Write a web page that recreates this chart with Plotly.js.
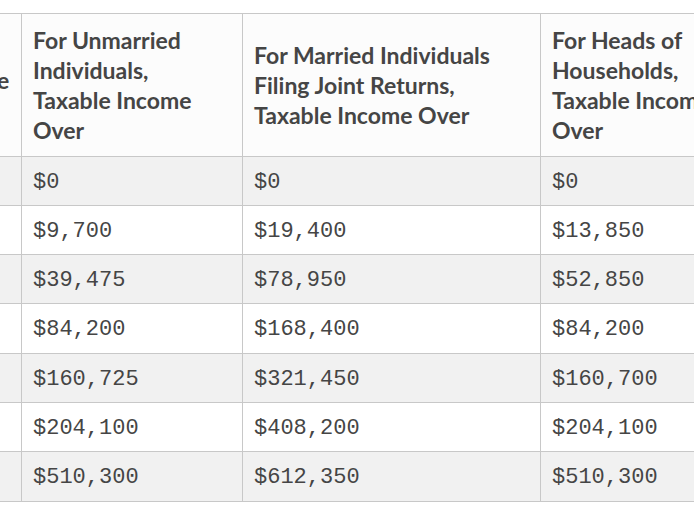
<!DOCTYPE html>
<html>
<head>
<meta charset="utf-8">
<script src="https://cdn.plot.ly/plotly-3.0.1.min.js"></script>
<style>
html, body { margin: 0; padding: 0; width: 694px; height: 520px; overflow: hidden; background: #ffffff; }
#chart { position: absolute; left: -90px; top: 0; width: 855px; height: 520px; }
</style>
</head>
<body>
<div id="chart"></div>
<script>
var headers = [
  "Tax Rate",
  "For Unmarried<br>Individuals,<br>Taxable Income<br>Over",
  "For Married Individuals<br>Filing Joint Returns,<br>Taxable Income Over",
  "For Heads of<br>Households,<br>Taxable Income<br>Over"
];
var taxRate = ["10%", "12%", "22%", "24%", "32%", "35%", "37%"];
var unmarried = ["$0", "$9,700", "$39,475", "$84,200", "$160,725", "$204,100", "$510,300"];
var married = ["$0", "$19,400", "$78,950", "$168,400", "$321,450", "$408,200", "$612,350"];
var heads = ["$0", "$13,850", "$52,850", "$84,200", "$160,700", "$204,100", "$510,300"];

// layout geometry (pixels)
var colW = [111, 221, 298, 221];
var W = 851, PADX = 4, divW = W + PADX;
var H = 520, T = 13, plotH = H - T;
var headerH = 143, rowH = 49.3;
var cellShift = 7;                 // vertical offset of cell text
var headShift = [51, 5, 20, 5];    // vertical offset of header texts

var BORDER = "#c8c8c8", INK = "#454545", CLEAR = "rgba(0,0,0,0)";
var headFont = { family: "Lato, sans-serif", size: 23, color: INK, weight: 700 };
var cellFont = { family: "Liberation Mono, monospace", size: 22, color: INK };

var rowFill = taxRate.map(function (_, i) { return i % 2 === 0 ? "#f1f1f1" : "#ffffff"; });
var blank = taxRate.map(function () { return ""; });

// grid: fills and borders
var grid = {
  type: "table",
  columnwidth: colW,
  domain: { x: [0, W / divW], y: [0, 1] },
  header: {
    values: ["", "", "", ""],
    height: headerH,
    fill: { color: "#fcfcfc" },
    line: { color: BORDER, width: 1 }
  },
  cells: {
    values: [blank, blank, blank, blank],
    height: rowH,
    fill: { color: [rowFill, rowFill, rowFill, rowFill] },
    line: { color: BORDER, width: 1 }
  }
};

// cell values
var cellText = {
  type: "table",
  columnwidth: colW,
  domain: { x: [PADX / divW, 1], y: [0, 1 - cellShift / plotH] },
  header: {
    values: ["", "", "", ""],
    height: headerH,
    fill: { color: CLEAR },
    line: { color: CLEAR, width: 0 }
  },
  cells: {
    values: [taxRate, unmarried, married, heads],
    align: "left",
    height: rowH,
    fill: { color: CLEAR },
    line: { color: CLEAR, width: 0 },
    font: cellFont
  }
};

var traces = [grid, cellText];
var x0 = 0;
headers.forEach(function (h, i) {
  traces.push({
    type: "table",
    columnwidth: [colW[i]],
    domain: { x: [(x0 + PADX) / divW, (x0 + PADX + colW[i]) / divW], y: [0, 1 - headShift[i] / plotH] },
    header: {
      values: [h],
      align: "left",
      height: headerH,
      fill: { color: CLEAR },
      line: { color: CLEAR, width: 0 },
      font: headFont
    },
    cells: { values: [[]], fill: { color: CLEAR }, line: { color: CLEAR, width: 0 } }
  });
  x0 += colW[i];
});

var layout = {
  width: divW,
  height: H,
  margin: { l: 0, r: 0, t: T, b: 0 },
  paper_bgcolor: "#ffffff",
  showlegend: false
};

Plotly.newPlot("chart", traces, layout, { displayModeBar: false, staticPlot: true });
</script>
</body>
</html>
